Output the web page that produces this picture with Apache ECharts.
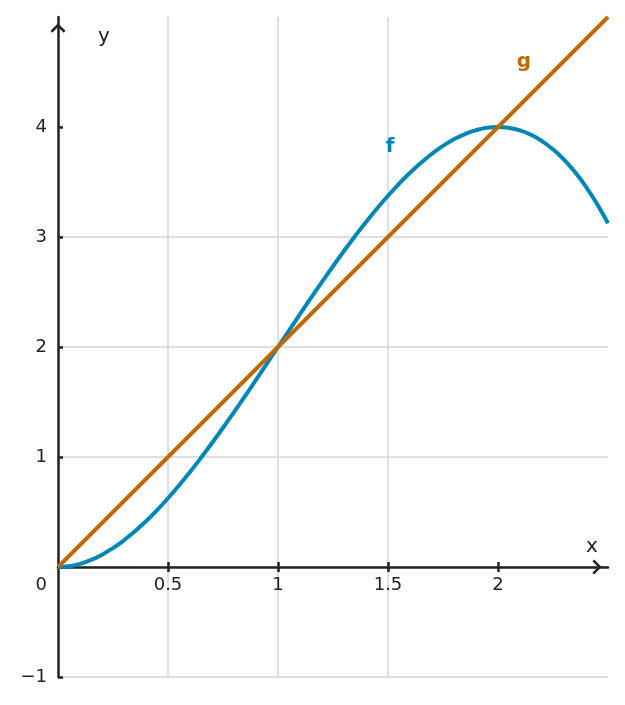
<!DOCTYPE html>
<html>
<head>
<meta charset="utf-8">
<script src="https://cdn.jsdelivr.net/npm/echarts@6/dist/echarts.min.js"></script>
<style>
  html, body { margin: 0; padding: 0; background: #fff; }
  #main { width: 625px; height: 705px; }
</style>
</head>
<body>
<div id="main"></div>
<script>
// values
var xValues = [0, 0.05, 0.1, 0.15, 0.2, 0.25, 0.3, 0.35, 0.4, 0.45, 0.5, 0.55, 0.6, 0.65, 0.7, 0.75, 0.8, 0.85, 0.9, 0.95,
    1.0, 1.05, 1.1, 1.15, 1.2, 1.25, 1.3, 1.35, 1.4, 1.45, 1.5, 1.55, 1.6, 1.65, 1.7, 1.75, 1.8, 1.85, 1.9, 1.95,
    2.0, 2.05, 2.1, 2.15, 2.2, 2.25, 2.3, 2.35, 2.4, 2.45, 2.5];
var fValues = [0, 0.007, 0.029, 0.064, 0.112, 0.172, 0.243, 0.325, 0.416, 0.516, 0.625, 0.741, 0.864, 0.993, 1.127, 1.266, 1.408, 1.553, 1.701, 1.850,
    2.0, 2.150, 2.299, 2.447, 2.592, 2.734, 2.873, 3.007, 3.136, 3.259, 3.375, 3.484, 3.584, 3.675, 3.757, 3.828, 3.888, 3.936, 3.971, 3.993,
    4.0, 3.992, 3.969, 3.929, 3.872, 3.797, 3.703, 3.590, 3.456, 3.301, 3.125];
var gX = [0, 0.5, 1, 1.5, 2, 2.5];
var gValues = [0, 1, 2, 3, 4, 5];
var xTicks = [0.5, 1, 1.5, 2];
var yTicks = [-1, 0, 1, 2, 3, 4];

var fColor = '#0087b8';
var gColor = '#c26800';
var axisColor = '#222222';
var gridColor = '#d4d4d4';
var font = 'DejaVu Sans';

// open arrow head, pointing up in symbol space
var chevron = 'path://M0,10 L10,0 L20,10 L17.6,12.4 L10,4.8 L2.4,12.4 Z';

var fData = xValues.map(function (x, i) {
    var item = {value: [x, fValues[i]]};
    if (x === 1.5) {
        item.label = {show: true, formatter: 'f', position: 'inside', offset: [2, -49],
            color: fColor, fontSize: 20, fontWeight: 'bold', fontFamily: font};
    }
    return item;
});
var gData = gX.map(function (x, i) {
    var item = {value: [x, gValues[i]]};
    if (x === 2) {
        item.label = {show: true, formatter: 'g', position: 'inside', offset: [26, -65],
            color: gColor, fontSize: 20, fontWeight: 'bold', fontFamily: font};
    }
    return item;
});

function xLabel(v) {
    return String(v);
}
function yLabel(v) {
    if (v === 0) return '{o|0}';
    return v < 0 ? '\u2212' + Math.abs(v) : String(v);
}

var chart = echarts.init(document.getElementById('main'));
chart.setOption({
    animation: false,
    backgroundColor: '#ffffff',
    grid: {left: 58, right: 17, top: 17, bottom: 28, containLabel: false},
    xAxis: [{
        type: 'value', min: 0, max: 2.5, interval: 0.5,
        position: 'bottom', offset: -110,
        name: 'x', nameLocation: 'end', nameGap: -16,
        nameTextStyle: {color: axisColor, fontSize: 20, fontFamily: font, align: 'center', verticalAlign: 'bottom', padding: [0, 0, 10, 0]},
        axisLine: {onZero: false, symbol: ['none', chevron], symbolSize: [15, 10], symbolOffset: [0, -11],
            lineStyle: {color: axisColor, width: 2.5}},
        axisTick: {show: true, length: 5, customValues: xTicks, lineStyle: {color: axisColor, width: 2.5}},
        axisLabel: {formatter: xLabel, customValues: xTicks, color: axisColor, fontSize: 18, fontFamily: font, margin: 9},
        splitLine: {show: true, showMaxLine: false, lineStyle: {color: gridColor, width: 1.5}}
    }, {
        // second copy only for the upper half of the crossing ticks
        type: 'value', min: 0, max: 2.5, interval: 0.5,
        position: 'bottom', offset: -110,
        axisLine: {show: false, onZero: false},
        axisTick: {show: true, inside: true, length: 5, customValues: xTicks, lineStyle: {color: axisColor, width: 2.5}},
        axisLabel: {show: false},
        splitLine: {show: false}
    }],
    yAxis: {
        type: 'value', min: -1, max: 5, interval: 1,
        name: 'y', nameLocation: 'end', nameGap: -20,
        nameTextStyle: {color: axisColor, fontSize: 20, fontFamily: font, align: 'left', verticalAlign: 'middle', padding: [0, 0, 0, 40]},
        axisLine: {onZero: false, symbol: ['none', chevron], symbolSize: [15, 10], symbolOffset: [0, -11],
            lineStyle: {color: axisColor, width: 2.5}},
        axisTick: {show: true, inside: true, length: 5, customValues: yTicks, lineStyle: {color: axisColor, width: 2.5}},
        axisLabel: {formatter: yLabel, customValues: yTicks, color: axisColor, fontSize: 18, fontFamily: font, margin: 11,
            rich: {o: {color: axisColor, fontSize: 18, fontFamily: font, padding: [36, 0, 0, 0]}}},
        splitLine: {show: true, showMaxLine: false, lineStyle: {color: gridColor, width: 1.5}}
    },
    series: [{
        name: 'g', type: 'line', data: gData, showSymbol: true, showAllSymbol: true,
        symbol: 'circle', symbolSize: 0,
        lineStyle: {color: gColor, width: 4}, itemStyle: {color: gColor}, z: 3
    }, {
        name: 'f', type: 'line', data: fData, smooth: true, showSymbol: true, showAllSymbol: true,
        symbol: 'circle', symbolSize: 0,
        lineStyle: {color: fColor, width: 4}, itemStyle: {color: fColor}, z: 2
    }]
});
</script>
</body>
</html>
